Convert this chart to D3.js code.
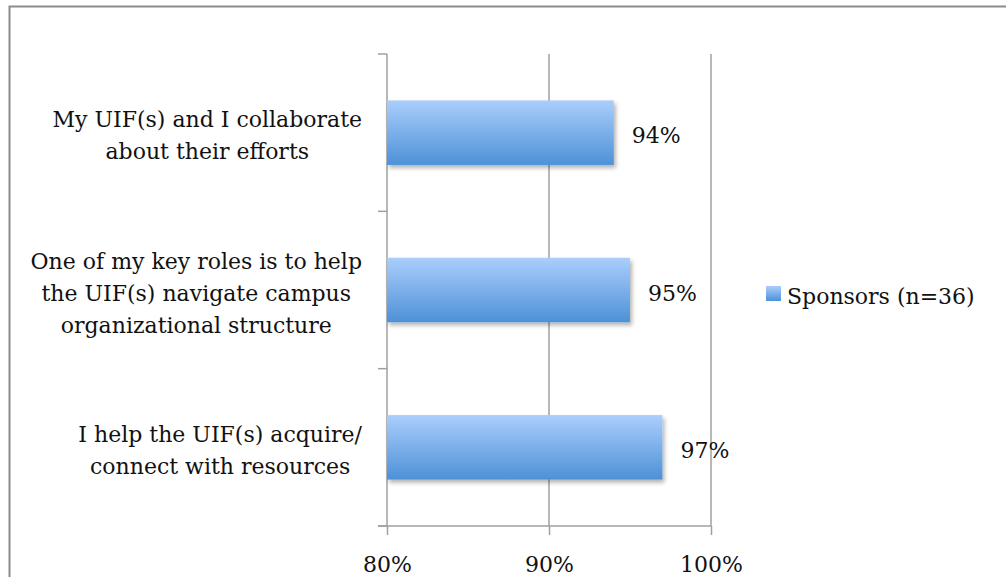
<!DOCTYPE html>
<html>
<head>
<meta charset="utf-8">
<script src="https://cdn.jsdelivr.net/npm/d3@7"></script>
<style>
  html, body { margin: 0; padding: 0; background: #fff; }
  svg { display: block; }
  text { font-family: "DejaVu Serif", "Liberation Serif", serif; fill: #111; }
</style>
</head>
<body>
<svg id="chart" width="1006" height="577"></svg>
<script>
// Survey items (top to bottom), one line per array entry
const categories = [
  ["My UIF(s) and I collaborate", "about their efforts"],
  ["One of my key roles is to help", "the UIF(s) navigate campus", "organizational structure"],
  ["I help the UIF(s) acquire/", "connect with resources"]
];
const values = [94, 95, 97];
const seriesName = "Sponsors (n=36)";
const xTicks = [80, 90, 100];

const svg = d3.select("#chart");
const W = 1006, H = 577;
const fontSize = 22;

const plot = { left: 387, right: 711, top: 54, bottom: 526 };

const x = d3.scaleLinear().domain([80, 100]).range([plot.left, plot.right]);
const y = d3.scaleBand()
  .domain(d3.range(categories.length))
  .range([plot.top, plot.bottom])
  .paddingInner(0.59).paddingOuter(0.295);

// outer frame of the chart area
svg.append("rect")
  .attr("x", 9.5).attr("y", 6.5)
  .attr("width", W + 20).attr("height", H + 20)
  .attr("fill", "none").attr("stroke", "#8c8c8c").attr("stroke-width", 2);

const defs = svg.append("defs");
const grad = defs.append("linearGradient")
  .attr("id", "barGrad").attr("x1", 0).attr("y1", 0).attr("x2", 0).attr("y2", 1);
grad.append("stop").attr("offset", "0%").attr("stop-color", "#abcefc");
grad.append("stop").attr("offset", "100%").attr("stop-color", "#4d91d7");

const shadow = defs.append("filter").attr("id", "barShadow")
  .attr("x", "-5%").attr("y", "-20%").attr("width", "115%").attr("height", "150%");
shadow.append("feDropShadow")
  .attr("dx", 2).attr("dy", 3).attr("stdDeviation", 2)
  .attr("flood-color", "#000").attr("flood-opacity", 0.3);

// vertical gridlines (the 80% position is the category axis)
svg.append("g").selectAll("line")
  .data(xTicks.filter(d => d !== 80))
  .join("line")
  .attr("x1", d => x(d)).attr("x2", d => x(d))
  .attr("y1", plot.top).attr("y2", plot.bottom)
  .attr("stroke", "#a0a0a0").attr("stroke-width", 1.5);

// bottom axis
const xAxis = d3.axisBottom(x)
  .tickValues(xTicks)
  .tickFormat(d => d + "%")
  .tickSizeInner(9).tickSizeOuter(0).tickPadding(21);
const gx = svg.append("g")
  .attr("transform", `translate(0,${plot.bottom})`)
  .call(xAxis);
gx.select(".domain").remove();
gx.selectAll(".tick line").attr("stroke", "#a0a0a0").attr("stroke-width", 1.5);
gx.selectAll(".tick text")
  .attr("font-size", fontSize)
  .attr("font-family", "DejaVu Serif")
  .attr("fill", "#111");
gx.append("line")
  .attr("x1", plot.left - 9).attr("x2", plot.right)
  .attr("y1", 0).attr("y2", 0)
  .attr("stroke", "#a0a0a0").attr("stroke-width", 1.5);

// left category axis (ticks between bands)
const yTickPos = d3.range(categories.length + 1).map(i => plot.top + i * (plot.bottom - plot.top) / categories.length);
const gy = svg.append("g");
gy.append("line")
  .attr("x1", plot.left).attr("x2", plot.left)
  .attr("y1", plot.top).attr("y2", plot.bottom)
  .attr("stroke", "#a0a0a0").attr("stroke-width", 1.5);
gy.selectAll("line.tick")
  .data(yTickPos)
  .join("line")
  .attr("class", "tick")
  .attr("x1", plot.left - 9).attr("x2", plot.left)
  .attr("y1", d => d).attr("y2", d => d)
  .attr("stroke", "#a0a0a0").attr("stroke-width", 1.5);

// bars
svg.append("g").selectAll("rect")
  .data(values)
  .join("rect")
  .attr("x", x(80))
  .attr("y", (d, i) => y(i))
  .attr("width", d => x(d) - x(80))
  .attr("height", y.bandwidth())
  .attr("fill", "url(#barGrad)")
  .attr("filter", "url(#barShadow)");

// value labels
svg.append("g").selectAll("text")
  .data(values)
  .join("text")
  .attr("x", d => x(d) + 18)
  .attr("y", (d, i) => y(i) + y.bandwidth() / 2 + 3)
  .attr("dy", "0.35em")
  .attr("font-size", fontSize)
  .text(d => d + "%");

// category labels: multi-line, centred within a block right-aligned near the axis
const lineH = 32;
const catG = svg.append("g");
categories.forEach((lines, i) => {
  const cy = y(i) + y.bandwidth() / 2 + 3;
  const t = catG.append("text").attr("font-size", fontSize);
  lines.forEach((ln, j) => {
    t.append("tspan").text(ln)
      .attr("y", cy + (j - (lines.length - 1) / 2) * lineH)
      .attr("dy", "0.35em");
  });
  const widths = t.selectAll("tspan").nodes().map(n => n.getComputedTextLength());
  const maxW = d3.max(widths);
  const cx = 362 - maxW / 2;
  t.attr("text-anchor", "middle").selectAll("tspan").attr("x", cx);
});

// legend
const lg = svg.append("g").attr("transform", "translate(766,286)");
lg.append("rect").attr("width", 15).attr("height", 15).attr("fill", "url(#barGrad)");
lg.append("text")
  .attr("x", 21).attr("y", 10).attr("dy", "0.35em")
  .attr("font-size", fontSize)
  .text(seriesName);
</script>
</body>
</html>
